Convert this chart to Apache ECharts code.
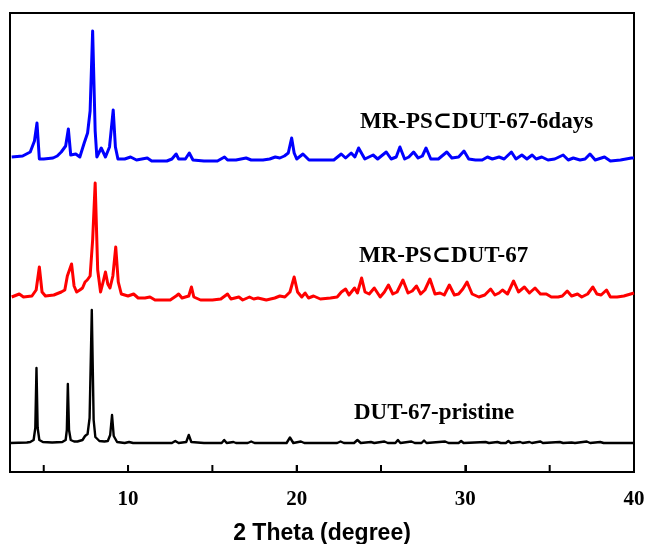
<!DOCTYPE html>
<html>
<head>
<meta charset="utf-8">
<script src="https://cdn.jsdelivr.net/npm/echarts@6/dist/echarts.min.js"></script>
<style>
html,body{margin:0;padding:0;background:#fff;}
#chart{width:649px;height:544px;}
</style>
</head>
<body>
<div id="chart"></div>
<script>
// ---- data (2 Theta in degrees, intensity in arbitrary units) ----
const seriesNames = ['MR-PS\u2282DUT-67-6days', 'MR-PS\u2282DUT-67', 'DUT-67-pristine'];
const seriesColors = ['#0000ff', '#ff0000', '#000000'];
const seriesOffsets = [311, 172, 28];

const xTicks = [10, 20, 30, 40];
const xMinorTicks = [5, 15, 25, 35];

const blue6days = [
[3.1,4],[3.75,5],[4.2,9],[4.45,20],[4.6,38],[4.74,2],[5.0,2],[5.55,3],[5.8,5],[6.04,9],[6.3,15],[6.46,32],[6.6,6],[6.65,4],
[6.9,7],[7.14,4],[7.4,18],[7.6,28],[7.75,50],[7.9,130],[8.05,30],[8.15,4],[8.41,13],[8.66,4],[8.9,14],[9.12,51],[9.25,14],[9.4,2],
[9.8,2],[10.15,4],[10.5,1],[11.14,3],[11.4,0],[12.3,0],[12.6,2],[12.85,7],[13.0,2],[13.4,2],[13.63,8],[13.85,1],[14.5,0],[15.3,0],
[15.72,4],[15.9,1],[16.4,1],[17.0,3],[17.3,1],[18.0,1],[18.4,2],[18.73,4],[19.0,3],[19.27,5],[19.5,8],[19.7,23],[19.85,8],[20.0,2],
[20.37,7],[20.73,1],[21.5,1],[22.2,1],[22.64,7],[22.9,3],[23.23,8],[23.45,4],[23.67,13],[24.04,2],[24.53,6],[24.8,2],[25.31,9],
[25.6,2],[25.9,4],[26.12,14],[26.4,2],[26.65,4],[26.93,9],[27.2,3],[27.45,5],[27.67,13],[27.95,2],[28.4,2],[28.9,9],[29.2,3],
[29.6,4],[29.92,10],[30.2,2],[30.6,1],[31.0,1],[31.31,4],[31.6,2],[32.0,4],[32.3,2],[32.73,9],[33.0,2],[33.35,6],[33.65,2],
[33.96,6],[34.2,2],[34.53,4],[34.9,1],[35.3,2],[35.8,6],[36.1,1],[36.4,3],[36.8,1],[37.1,2],[37.39,7],[37.7,1],[38.25,4],
[38.6,0],[39.2,1],[39.85,3],[40,3]
];

const redComposite = [
[3.1,3],[3.55,6],[3.8,3],[4.3,4],[4.55,10],[4.74,33],[4.9,8],[5.1,4],[5.6,5],[6.04,8],[6.25,10],[6.4,24],[6.65,36],[6.8,14],
[6.95,8],[7.14,10],[7.3,12],[7.45,18],[7.58,20],[7.75,24],[7.9,60],[8.05,117],[8.2,30],[8.37,8],[8.52,18],[8.66,28],[8.8,16],
[8.93,12],[9.1,24],[9.27,53],[9.42,18],[9.6,6],[10.0,4],[10.33,6],[10.6,2],[11.0,2],[11.3,3],[11.6,0],[12.5,0],[12.85,4],[13.0,6],
[13.2,2],[13.6,4],[13.76,13],[13.9,3],[14.3,0],[15.0,0],[15.5,1],[15.9,6],[16.1,1],[16.57,3],[16.8,0],[17.2,3],[17.45,1],[17.7,2],
[18.2,0],[18.7,2],[19.0,4],[19.3,3],[19.6,8],[19.85,23],[20.05,8],[20.3,3],[20.5,7],[20.7,2],[21.0,4],[21.4,1],[22.0,2],[22.4,3],
[22.65,8],[22.9,11],[23.1,5],[23.43,12],[23.6,7],[23.85,22],[24.05,8],[24.3,6],[24.6,12],[24.95,3],[25.2,8],[25.44,15],[25.7,6],
[25.95,8],[26.3,20],[26.6,7],[26.85,9],[27.1,14],[27.35,6],[27.6,10],[27.9,21],[28.2,6],[28.5,7],[28.75,5],[29.05,15],[29.35,5],
[29.6,6],[29.85,11],[30.1,18],[30.4,6],[30.8,3],[31.15,5],[31.5,11],[31.75,5],[32.0,7],[32.2,10],[32.5,6],[32.86,19],[33.15,8],
[33.5,13],[33.8,7],[34.13,12],[34.45,6],[34.8,6],[35.1,3],[35.5,3],[35.75,4],[36.04,9],[36.3,4],[36.65,6],[36.9,3],[37.25,6],
[37.56,13],[37.8,6],[38.05,5],[38.37,10],[38.6,3],[39.0,3],[39.4,4],[39.8,6],[40,7]
];

const blackPristine = [
[3.0,1],[4.0,1.5],[4.2,2],[4.4,4],[4.5,16],[4.57,76],[4.64,16],[4.74,4],[4.95,2],[5.5,1.5],[6.1,2],[6.3,4],[6.37,14],[6.43,60],
[6.5,14],[6.6,4],[6.8,2.5],[7.0,2.5],[7.3,4],[7.45,8],[7.6,10],[7.72,26],[7.85,134],[7.96,24],[8.06,7],[8.3,3],[8.6,2.5],[8.8,3],
[8.94,9],[9.05,29],[9.15,8],[9.35,2],[9.8,1],[10.06,2],[10.3,1],[12.6,1],[12.8,3],[13.0,1],[13.45,2],[13.6,9],[13.75,2],[14.5,1],
[15.55,1],[15.7,4],[15.85,1],[16.25,2],[16.4,1],[17.1,1],[17.3,2.5],[17.5,1],[19.4,1],[19.6,6.5],[19.8,1],[20.25,2.5],[20.45,1],
[22.4,1],[22.6,2.5],[22.8,1],[23.4,1],[23.6,4],[23.8,1],[24.4,2],[24.6,1],[25.2,2.5],[25.4,1],[25.85,1],[26.0,4],[26.15,1],
[26.8,2.5],[27.0,1],[27.4,1],[27.55,3.5],[27.7,1],[28.8,2.5],[29.0,1],[29.6,1],[29.75,3],[29.9,1],[31.2,2],[31.4,1],[31.9,2],
[32.1,1],[32.4,1],[32.55,3],[32.7,1],[33.25,2],[33.4,1],[33.8,2],[33.95,1],[34.45,2.5],[34.6,1],[35.6,2],[35.8,1],[36.3,1.5],
[36.5,1],[37.2,2.5],[37.4,1],[38.0,2],[38.2,1],[40,1]
];

const seriesData = [blue6days, redComposite, blackPristine];

// ---- chart ----
const chart = echarts.init(document.getElementById('chart'), null, {renderer: 'canvas'});

const GRID = {left: 10, right: 15, top: 13, bottom: 72};
const labelPos = [{x: 360, y: 123}, {x: 359, y: 257}, {x: 354, y: 414}];

const series = seriesData.map((d, i) => ({
  type: 'line',
  name: seriesNames[i],
  xAxisIndex: 0,
  yAxisIndex: 0,
  data: d.map(p => [p[0], p[1] + seriesOffsets[i]]),
  showSymbol: false,
  symbol: 'none',
  smooth: false,
  lineStyle: {color: seriesColors[i], width: i === 2 ? 2.4 : 3, join: 'round'},
  itemStyle: {color: seriesColors[i]},
  z: 3 - i,
  animation: false
}));

// tick marks on the bottom axis (drawn through the axis scale)
const allTicks = xMinorTicks.concat(xTicks).sort((a, b) => a - b);
series.push({
  type: 'scatter',
  name: 'ticks',
  xAxisIndex: 0,
  yAxisIndex: 0,
  data: allTicks.map(v => [v, 0]),
  symbol: 'rect',
  symbolSize: [2, 7],
  symbolOffset: [0, -3.5],
  itemStyle: {color: '#000', opacity: 1},
  clip: false,
  silent: true,
  z: 20,
  zlevel: 0,
  animation: false
});

const option = {
  backgroundColor: '#ffffff',
  animation: false,
  grid: Object.assign({show: true, borderColor: '#000', borderWidth: 2, backgroundColor: 'transparent',
    containLabel: false, outerBoundsMode: 'none'}, GRID),
  xAxis: [
    {
      type: 'value', min: 3, max: 40, position: 'bottom',
      name: '2 Theta (degree)', nameLocation: 'middle', nameGap: 50,
      nameTextStyle: {fontFamily: 'Liberation Sans', fontWeight: 'bold', fontSize: 23, color: '#000'},
      axisLine: {show: true, onZero: false, lineStyle: {color: '#000', width: 2}},
      axisTick: {show: true, inside: true, length: 7, lineStyle: {color: '#000', width: 2}, customValues: xTicks},
      axisLabel: {show: true, customValues: xTicks, margin: 17, fontFamily: 'Liberation Serif', fontWeight: 'bold', fontSize: 21, color: '#000'},
      splitLine: {show: false}
    }
  ],
  yAxis: {
    type: 'value', min: 0, max: 459,
    axisLine: {show: false}, axisTick: {show: false}, axisLabel: {show: false}, splitLine: {show: false}
  },
  graphic: seriesNames.map((n, i) => ({
    type: 'text',
    left: labelPos[i].x,
    top: labelPos[i].y - 12,
    style: {text: n, fill: '#000', font: 'bold 23px "Liberation Serif", "DejaVu Serif", serif'},
    z: 10
  })),
  series: series
};

chart.setOption(option);
</script>
</body>
</html>
